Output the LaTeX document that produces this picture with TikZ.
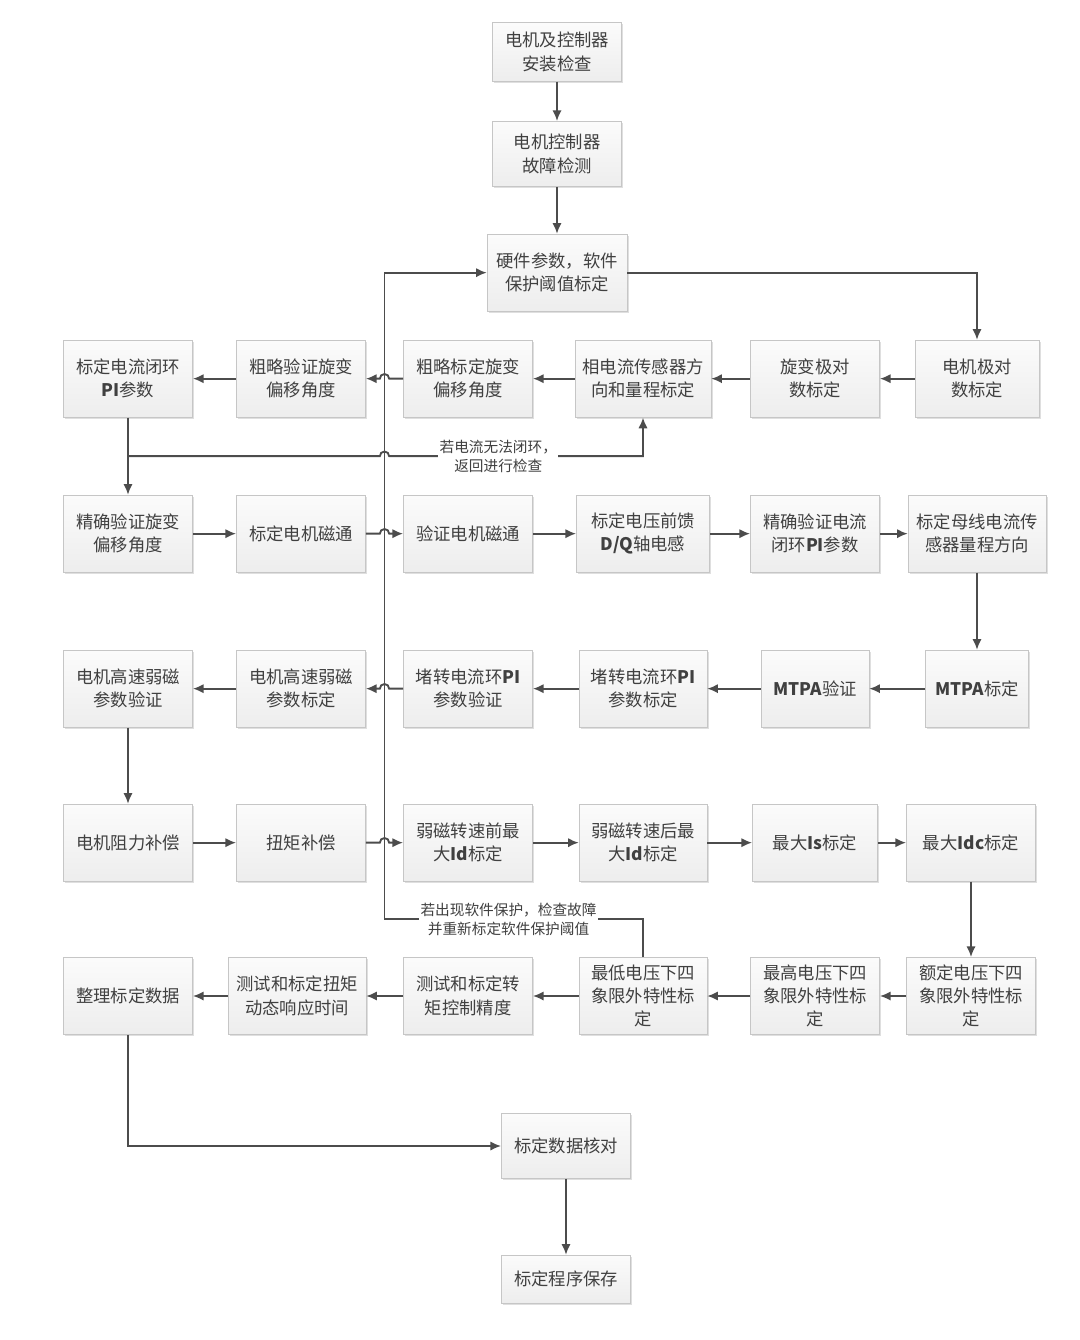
\documentclass[tikz,border=0pt]{standalone}
\usepackage{fontspec}
\setmainfont{Noto Sans CJK SC}
\usetikzlibrary{positioning,arrows.meta,calc,shadows}
\tikzstyle{cbox}=[rectangle, draw=gray!45, top color=gray!3, bottom color=gray!14,
                  minimum width=97pt, minimum height=58pt, inner sep=2pt, align=center,
                  text=black!75, font=\fontsize{13}{17.5}\selectfont,
                  drop shadow={shadow xshift=1.2pt, shadow yshift=-1.2pt, opacity=0.25, fill=gray}]
\tikzstyle{lbl}=[fill=white, inner sep=1pt, align=center, text=black!75,
                 font=\fontsize{11}{14}\selectfont]
\tikzstyle{aline}=[-{Latex[length=8pt,width=7pt]}, line width=1.4pt, draw=black!70]

\begin{document}
\begin{tikzpicture}[on grid]
\useasboundingbox (0,0) rectangle (810pt,-1005pt);

% start of the chain
\node (INST) [cbox, minimum height=44pt] at (417.75pt,-39pt) {电机及控制器\\安装检查};
\node (FAULT) [cbox, minimum height=49pt, below=76.5pt of INST] {电机控制器\\故障检测};
\node (HWPARAM) [cbox, minimum width=105pt, below=89pt of FAULT] {硬件参数，软件\\保护阈值标定};
\draw[aline] (INST) -- (FAULT);
\draw[aline] (FAULT) -- (HWPARAM);

% row 1, right to left
\node (MTPOLE) [cbox, minimum width=93pt, below right=79.5pt and 315pt of HWPARAM] {电机极对\\数标定};
\node (RVPOLE) [cbox, left=121.5pt of MTPOLE] {旋变极对\\数标定};
\node (PHSENS) [cbox, minimum width=102pt, left=129pt of RVPOLE] {相电流传感器方\\向和量程标定};
\node (RVCAL) [cbox, left=131.25pt of PHSENS] {粗略标定旋变\\偏移角度};
\node (RVCHK) [cbox, left=125.25pt of RVCAL] {粗略验证旋变\\偏移角度};
\node (CURPI) [cbox, left=129.75pt of RVCHK] {标定电流闭环\\\textbf{PI}参数};
\coordinate (BUS) at ($(RVCHK.east)!0.5!(RVCAL.west)$);

% row 2, left to right
\node (RVFINE) [cbox, below=116.25pt of CURPI] {精确验证旋变\\偏移角度};
\node (FLUXCAL) [cbox, below=116.25pt of RVCHK] {标定电机磁通};
\node (FLUXCHK) [cbox, below=116.25pt of RVCAL] {验证电机磁通};
\node (VFF) [cbox, minimum width=100pt, below=116.25pt of PHSENS] {标定电压前馈\\\textbf{D/Q}轴电感};
\node (PIFINE) [cbox, below=116.25pt of RVPOLE] {精确验证电流\\闭环\textbf{PI}参数};
\node (BUSSENS) [cbox, minimum width=103.5pt, below=116.25pt of MTPOLE] {标定母线电流传\\感器量程方向};

% row 3, right to left
\node (FWCHK) [cbox, below=116.25pt of RVFINE] {电机高速弱磁\\参数验证};
\node (FWCAL) [cbox, below=116.25pt of FLUXCAL] {电机高速弱磁\\参数标定};
\node (STPICHK) [cbox, below=116.25pt of FLUXCHK] {堵转电流环\textbf{PI}\\参数验证};
\node (STPICAL) [cbox, minimum width=96pt, below=116.25pt of VFF] {堵转电流环\textbf{PI}\\参数标定};
\node (MTPACHK) [cbox, minimum width=81pt, below=116.25pt of PIFINE] {\textbf{MTPA}验证};
\node (MTPACAL) [cbox, minimum width=77pt, below=116.25pt of BUSSENS] {\textbf{MTPA}标定};

% row 4, left to right
\node (DRAG) [cbox, below=115.5pt of FWCHK] {电机阻力补偿};
\node (TQCOMP) [cbox, below=115.5pt of FWCAL] {扭矩补偿};
\node (IDPRE) [cbox, below=115.5pt of STPICHK] {弱磁转速前最\\大\textbf{Id}标定};
\node (IDPOST) [cbox, minimum width=96pt, below=115.5pt of STPICAL] {弱磁转速后最\\大\textbf{Id}标定};
\node (ISMAX) [cbox, minimum width=94pt, below=115.5pt of MTPACHK] {最大\textbf{Is}标定};
\node (IDCMAX) [cbox, below=115.5pt of MTPACAL, xshift=-4.5pt] {最大\textbf{Idc}标定};

% row 5, right to left
\node (DATA) [cbox, below=115pt of DRAG] {整理标定数据};
\node (TQDYN) [cbox, minimum width=103.5pt, below=115pt of TQCOMP, xshift=-3pt] {测试和标定扭矩\\动态响应时间};
\node (TQACC) [cbox, below=115pt of IDPRE] {测试和标定转\\矩控制精度};
\node (QLOW) [cbox, minimum width=96pt, below=115pt of IDPOST] {最低电压下四\\象限外特性标\\定};
\node (QHIGH) [cbox, below=115pt of ISMAX] {最高电压下四\\象限外特性标\\定};
\node (QRATED) [cbox, below=115pt of IDCMAX] {额定电压下四\\象限外特性标\\定};

% end of the chain
\node (DCHK) [cbox, minimum height=49pt, below left=112.5pt and 57.75pt of QLOW] {标定数据核对};
\node (SAVE) [cbox, minimum height=36pt, below=99.75pt of DCHK] {标定程序保存};

\coordinate (BR1) at ($(CURPI.south)!0.5!(RVFINE.north)$);
\coordinate (BR2) at ($(IDPOST.south)!0.5!(QLOW.north)$);

% feedback to the protection thresholds
\draw[aline] (QLOW.north) -- (BR2) -- node[lbl, pos=0.52] {若出现软件保护，检查故障\\并重新标定软件保护阈值} (BUS |- BR2)
  -- (BUS |- HWPARAM.west) -- (HWPARAM.west);

\draw[aline] (HWPARAM.east) -| (MTPOLE.north);
\draw[aline] (MTPOLE) -- (RVPOLE);
\draw[aline] (RVPOLE) -- (PHSENS);
\draw[aline] (PHSENS) -- (RVCAL);
\draw[aline] (RVCAL.west) -- ($(BUS |- RVCAL.west)+(3.5pt,0)$) arc[start angle=0, end angle=180, radius=3.5pt] -- (RVCHK.east);
\draw[aline] (RVCHK) -- (CURPI);
\draw[aline] (CURPI.south) -- (RVFINE.north);
\draw[aline] (BR1) -- ($(BUS |- BR1)+(-3.5pt,0)$) arc[start angle=180, end angle=0, radius=3.5pt]
  -- node[lbl, pos=0.43] {若电流无法闭环，\\返回进行检查} (PHSENS.south |- BR1) -- (PHSENS.south);

\draw[aline] (RVFINE) -- (FLUXCAL);
\draw[aline] (FLUXCAL.east) -- ($(BUS |- FLUXCAL.east)+(-3.5pt,0)$) arc[start angle=180, end angle=0, radius=3.5pt] -- (FLUXCHK.west);
\draw[aline] (FLUXCHK) -- (VFF);
\draw[aline] (VFF) -- (PIFINE);
\draw[aline] (PIFINE) -- (BUSSENS);
\draw[aline] (BUSSENS) -- (MTPACAL);

\draw[aline] (MTPACAL) -- (MTPACHK);
\draw[aline] (MTPACHK) -- (STPICAL);
\draw[aline] (STPICAL) -- (STPICHK);
\draw[aline] (STPICHK.west) -- ($(BUS |- STPICHK.west)+(3.5pt,0)$) arc[start angle=0, end angle=180, radius=3.5pt] -- (FWCAL.east);
\draw[aline] (FWCAL) -- (FWCHK);
\draw[aline] (FWCHK) -- (DRAG);

\draw[aline] (DRAG) -- (TQCOMP);
\draw[aline] (TQCOMP.east) -- ($(BUS |- TQCOMP.east)+(-3.5pt,0)$) arc[start angle=180, end angle=0, radius=3.5pt] -- (IDPRE.west);
\draw[aline] (IDPRE) -- (IDPOST);
\draw[aline] (IDPOST) -- (ISMAX);
\draw[aline] (ISMAX) -- (IDCMAX);
\draw[aline] (IDCMAX) -- (QRATED);

\draw[aline] (QRATED) -- (QHIGH);
\draw[aline] (QHIGH) -- (QLOW);
\draw[aline] (QLOW) -- (TQACC);
\draw[aline] (TQACC) -- (TQDYN);
\draw[aline] (TQDYN) -- (DATA);
\draw[aline] (DATA.south) |- (DCHK.west);
\draw[aline] (DCHK) -- (SAVE);

\end{tikzpicture}
\end{document}
